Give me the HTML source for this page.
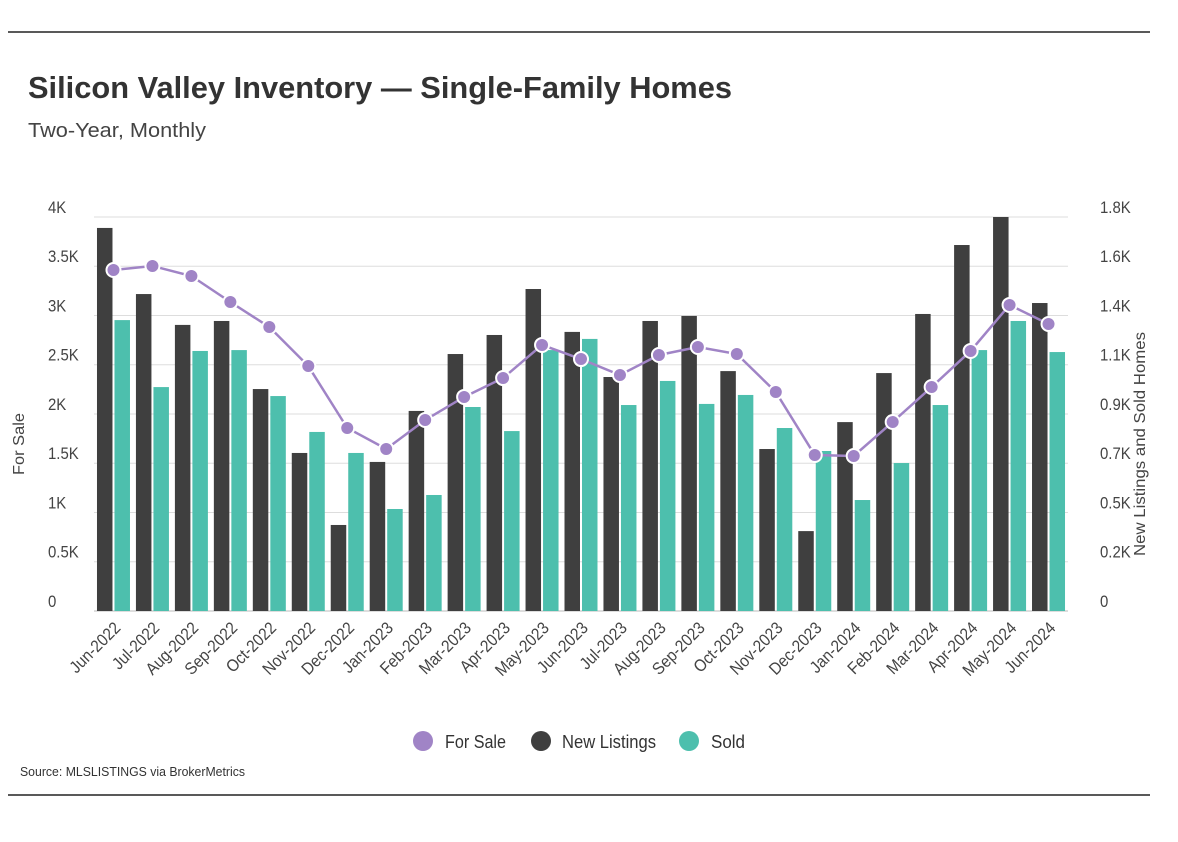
<!DOCTYPE html>
<html><head><meta charset="utf-8"><style>
body{margin:0;background:#fff;}
svg{display:block;font-family:"Liberation Sans",sans-serif;}
</style></head><body>
<svg id="chart" width="1178" height="842" viewBox="0 0 1178 842">
<line x1="8" y1="32" x2="1150" y2="32" stroke="#222" stroke-width="1.5"/>
<line x1="8" y1="795" x2="1150" y2="795" stroke="#222" stroke-width="1.5"/>
<text x="28" y="98" font-size="31" font-weight="bold" fill="#333" textLength="704" lengthAdjust="spacingAndGlyphs">Silicon Valley Inventory — Single-Family Homes</text>
<text x="28" y="137" font-size="20" fill="#444" textLength="178" lengthAdjust="spacingAndGlyphs">Two-Year, Monthly</text>
<g id="grid"></g><g id="bars"></g><g id="line"></g><g id="axes"></g>
<text transform="translate(24,444) rotate(-90)" text-anchor="middle" font-size="16" fill="#444" textLength="62" lengthAdjust="spacingAndGlyphs">For Sale</text>
<text transform="translate(1145,444) rotate(-90)" text-anchor="middle" font-size="16" fill="#444" textLength="224" lengthAdjust="spacingAndGlyphs">New Listings and Sold Homes</text>
<g>
<g><circle cx="423" cy="741" r="10" fill="#a084c6"/><text x="445" y="748" font-size="18" fill="#333" textLength="61" lengthAdjust="spacingAndGlyphs">For Sale</text></g>
<g><circle cx="541" cy="741" r="10" fill="#3f3f3f"/><text x="562" y="748" font-size="18" fill="#333" textLength="94" lengthAdjust="spacingAndGlyphs">New Listings</text></g>
<g><circle cx="689" cy="741" r="10" fill="#4dbfad"/><text x="711" y="748" font-size="18" fill="#333" textLength="34" lengthAdjust="spacingAndGlyphs">Sold</text></g>
</g>
<text x="20" y="776" font-size="13" fill="#333" textLength="225" lengthAdjust="spacingAndGlyphs">Source:  MLSLISTINGS via BrokerMetrics</text>
</svg>
<script>
const months=["Jun-2022","Jul-2022","Aug-2022","Sep-2022","Oct-2022","Nov-2022","Dec-2022","Jan-2023","Feb-2023","Mar-2023","Apr-2023","May-2023","Jun-2023","Jul-2023","Aug-2023","Sep-2023","Oct-2023","Nov-2023","Dec-2023","Jan-2024","Feb-2024","Mar-2024","Apr-2024","May-2024","Jun-2024"];
const newListings=[1750,1448,1307,1325,1014,722,393,681,914,1174,1261,1471,1275,1069,1325,1348,1096,740,365,863,1087,1357,1672,1800,1407];
const sold=[1329,1023,1188,1192,982,818,722,466,530,932,822,1192,1243,941,1051,946,987,836,731,507,676,941,1192,1325,1183];
const forSale=[3462,3503,3401,3137,2883,2487,1858,1645,1939,2173,2365,2701,2558,2396,2599,2680,2609,2223,1584,1574,1919,2274,2640,3107,2914];
const leftTicks=[0,500,1000,1500,2000,2500,3000,3500,4000];
const leftLabels=["0","0.5K","1K","1.5K","2K","2.5K","3K","3.5K","4K"];
const rightLabels=["0","0.2K","0.5K","0.7K","0.9K","1.1K","1.4K","1.6K","1.8K"];
const NS="http://www.w3.org/2000/svg";
const X0=94,X1=1068,Y0=611,Y1=217,LMAX=4000,RMAX=1800;
const slot=(X1-X0)/months.length;
const yL=v=>Y0-(v/LMAX)*(Y0-Y1);
const yR=v=>Y0-(v/RMAX)*(Y0-Y1);
const xc=i=>X0+slot*(i+0.5);
function mk(tag,attrs,parent){const e=document.createElementNS(NS,tag);for(const k in attrs)e.setAttribute(k,attrs[k]);document.getElementById(parent).appendChild(e);return e;}
leftTicks.forEach((t,i)=>{
  const y=yL(t);
  const g=mk('line',{x1:X0,x2:X1,y1:y,y2:y,stroke:i===0?'#bbb':'#ddd','stroke-width':1},'grid');
  
  
  const a=mk('text',{x:48,y:y-4,'font-size':17,fill:'#444',transform:`translate(${48*0.12},0) scale(0.88,1)`},'axes');a.textContent=leftLabels[i];
  
  
  const b=mk('text',{x:1100,y:y-4,'font-size':17,fill:'#444',transform:`translate(${1100*0.12},0) scale(0.88,1)`},'axes');b.textContent=rightLabels[i];
  
  
});
const bw=15.5;
months.forEach((m,i)=>{
  const c=xc(i);
  const r1=mk('rect',{x:c-bw-1,y:yR(newListings[i]),width:bw,height:Y0-yR(newListings[i]),fill:'#3f3f3f'},'bars');
  
  
  const r2=mk('rect',{x:c+1,y:yR(sold[i]),width:bw,height:Y0-yR(sold[i]),fill:'#4dbfad'},'bars');
  
  
  const t=mk('text',{transform:`translate(${c+8},${Y0+18}) rotate(-45) scale(0.9,1)`,'text-anchor':'end','font-size':17,fill:'#444'},'axes');
  t.textContent=m;
  
  
});
const pts=forSale.map((v,i)=>xc(i)+','+yL(v)).join(' ');
const pl=mk('polyline',{points:pts,fill:'none',stroke:'#a084c6','stroke-width':2.5},'line');


forSale.forEach((v,i)=>{
  const p=mk('circle',{cx:xc(i),cy:yL(v),r:7,fill:'#a084c6',stroke:'#fff','stroke-width':2},'line');
  
  
});
</script>
</body></html>
